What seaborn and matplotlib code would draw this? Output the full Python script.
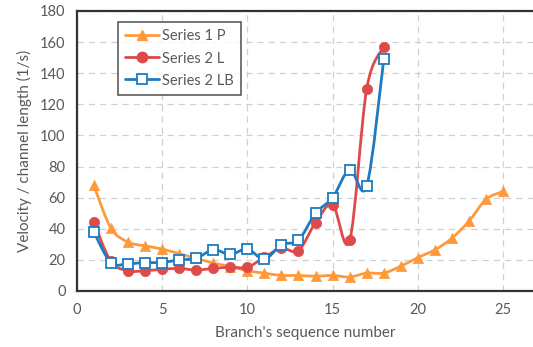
import numpy as np
import pandas as pd
import matplotlib
matplotlib.use("Agg")
import matplotlib.pyplot as plt
import seaborn as sns
from matplotlib.path import Path
from matplotlib.patches import PathPatch
from matplotlib.lines import Line2D

# ---- data ----
branch_p = list(range(1, 26))
series1_p = [68, 40.5, 31.5, 29, 27, 24, 21, 18, 15.7, 13, 11.5, 10, 10, 9.5, 10,
             9, 11.5, 11.5, 16, 21.5, 26.5, 34, 45, 59, 64]
branch_l = list(range(1, 19))
series2_l = [44.5, 19, 13, 13, 14, 14.5, 13.5, 14.5, 15.3, 15.3, 21.7, 27.5, 26,
             44, 55.5, 32.5, 130, 157]
series2_lb = [38, 18.3, 17.5, 18.3, 18.3, 20, 21, 26.5, 23.5, 27, 20.5, 29.7, 32.7,
              50, 60, 78, 67.5, 149]
labels = ["Series 1 P", "Series 2 L", "Series 2 LB"]
x_ticks = [0, 5, 10, 15, 20, 25]
y_ticks = list(range(0, 181, 20))

colors = ["#FF9A3C", "#DE4A4A", "#1F7BC1"]
markers = ["^", "o", "s"]

sns.set_theme(style="white")
plt.rcParams["font.family"] = ["Lato", "DejaVu Sans"]
TXT = "#595959"

fig = plt.figure(figsize=(5.33, 3.47), dpi=100)
ax = fig.add_axes([76.7 / 533, (347 - 291) / 347, (533 - 76.7) / 533, (291 - 11) / 347])

def smooth_path(xs, ys):
    pts = np.column_stack([xs, ys]).astype(float)
    n = len(pts)
    verts = [pts[0]]
    codes = [Path.MOVETO]
    for i in range(n - 1):
        p0 = pts[i - 1] if i > 0 else pts[i]
        p1 = pts[i]
        p2 = pts[i + 1]
        p3 = pts[i + 2] if i + 2 < n else pts[i + 1]
        c1 = p1 + (p2 - p0) / 6.0
        c2 = p2 - (p3 - p1) / 6.0
        verts += [c1, c2, p2]
        codes += [Path.CURVE4] * 3
    return Path(verts, codes)

series = [(branch_p, series1_p), (branch_l, series2_l), (branch_l, series2_lb)]
for (xs, ys), c, m, lab in zip(series, colors, markers, labels):
    patch = PathPatch(smooth_path(xs, ys), facecolor="none", edgecolor=c, lw=2.0,
                      zorder=3, capstyle="round", joinstyle="round")
    ax.add_patch(patch)
    df = pd.DataFrame({"x": xs, "y": ys})
    if m == "s":
        ax.plot(df["x"], df["y"], ls="none", marker="s", ms=6.5, mfc="white",
                mec=c, mew=1.3, zorder=4)
    else:
        sns.scatterplot(data=df, x="x", y="y", ax=ax, marker=m, s=55, color=c,
                        edgecolor=c, linewidth=0.5, zorder=4)

ax.set_xlim(0, (533 - 76.7) / 17.06)
ax.set_ylim(0, 180)
ax.set_xticks(x_ticks)
ax.set_yticks(y_ticks)
ax.grid(True, ls=(0, (5, 4)), color="#D0D0D0", lw=0.9)
ax.set_axisbelow(True)
for s in ["left", "bottom", "top"]:
    ax.spines[s].set_color("#333333")
    ax.spines[s].set_linewidth(1.6)
ax.spines["right"].set_visible(False)
ax.tick_params(axis="y", direction="inout", length=8, width=1.4, color="#333333",
               labelsize=10.5, labelcolor=TXT, pad=4)
ax.tick_params(axis="x", length=0, labelsize=10.5, labelcolor=TXT, pad=9)
ax.set_xlabel("Branch's sequence number", fontsize=11, color=TXT, labelpad=6)
ax.set_ylabel("Velocity / channel length (1/s)", fontsize=11, color=TXT, labelpad=6)

handles = []
for c, m in zip(colors, markers):
    if m == "s":
        handles.append(Line2D([], [], color=c, lw=2.0, marker="s", ms=6.5, mfc="white",
                              mec=c, mew=1.3))
    else:
        handles.append(Line2D([], [], color=c, lw=2.0, marker=m, ms=7.5))
leg = ax.legend(handles, labels, loc="upper left", bbox_to_anchor=(0.09, 0.96),
                frameon=True, fancybox=False, edgecolor="#333333", fontsize=10.5,
                handlelength=2.3, handletextpad=0.2, borderpad=0.5, labelspacing=0.55,
                borderaxespad=0)
leg.get_frame().set_linewidth(1.2)
for t in leg.get_texts():
    t.set_color(TXT)

fig.savefig("out.png", dpi=100)
